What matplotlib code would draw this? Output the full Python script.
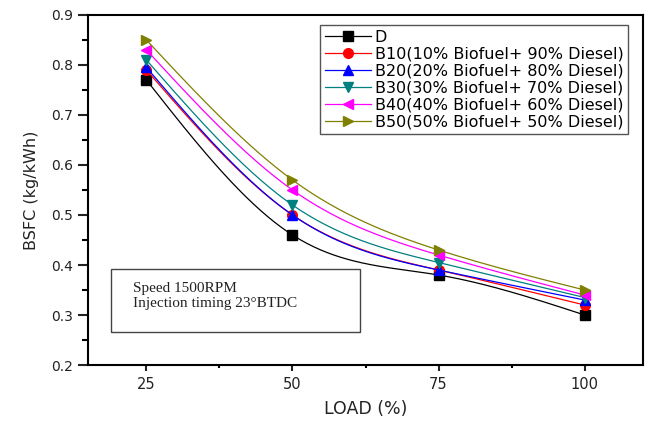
import numpy as np
import matplotlib.pyplot as plt
from matplotlib.patches import Rectangle
from matplotlib.ticker import MultipleLocator

# engine load (%) and BSFC (kg/kWh)
load = [25, 50, 75, 100]
bsfc_d = [0.77, 0.46, 0.38, 0.30]
bsfc_b10 = [0.79, 0.50, 0.39, 0.32]
bsfc_b20 = [0.795, 0.50, 0.39, 0.33]
bsfc_b30 = [0.81, 0.52, 0.405, 0.335]
bsfc_b40 = [0.83, 0.55, 0.42, 0.34]
bsfc_b50 = [0.85, 0.57, 0.43, 0.35]

labels = ['D',
          'B10(10% Biofuel+ 90% Diesel)',
          'B20(20% Biofuel+ 80% Diesel)',
          'B30(30% Biofuel+ 70% Diesel)',
          'B40(40% Biofuel+ 60% Diesel)',
          'B50(50% Biofuel+ 50% Diesel)']
series = [bsfc_d, bsfc_b10, bsfc_b20, bsfc_b30, bsfc_b40, bsfc_b50]
colors = ['black', '#ff0000', '#0000ff', '#008080', '#ff00ff', '#808000']
markers = ['s', 'o', '^', 'v', '<', '>']


def spline(x, y, n=200):
    # natural cubic spline through the points (for the smooth connecting line)
    x = np.asarray(x, float)
    y = np.asarray(y, float)
    k = len(x)
    h = np.diff(x)
    A = np.zeros((k, k))
    r = np.zeros(k)
    A[0, 0] = A[-1, -1] = 1
    for i in range(1, k - 1):
        A[i, i - 1] = h[i - 1]
        A[i, i] = 2 * (h[i - 1] + h[i])
        A[i, i + 1] = h[i]
        r[i] = 6 * ((y[i + 1] - y[i]) / h[i] - (y[i] - y[i - 1]) / h[i - 1])
    m = np.linalg.solve(A, r)
    xs = np.linspace(x[0], x[-1], n)
    idx = np.clip(np.searchsorted(x, xs) - 1, 0, k - 2)
    t0 = x[idx + 1] - xs
    t1 = xs - x[idx]
    hh = h[idx]
    ys = (m[idx] * t0**3 / (6 * hh) + m[idx + 1] * t1**3 / (6 * hh)
          + (y[idx] / hh - m[idx] * hh / 6) * t0
          + (y[idx + 1] / hh - m[idx + 1] * hh / 6) * t1)
    return xs, ys


fig = plt.figure(figsize=(6.49, 4.21), dpi=100)
ax = fig.add_axes([0.1356, 0.133, 0.8552, 0.8314])

handles = []
for vals, c, mk in zip(series, colors, markers):
    xs, ys = spline(load, vals)
    ln, = ax.plot(xs, ys, color=c, lw=0.9)
    pt, = ax.plot(load, vals, linestyle='none', marker=mk, color=c,
                  markersize=7, markeredgecolor=c)
    handles.append((ln, pt))

ax.set_xlim(15, 110)
ax.set_ylim(0.2, 0.9)
ax.set_xticks(load)
ax.xaxis.set_minor_locator(MultipleLocator(12.5))
ax.set_yticks(np.arange(0.2, 0.91, 0.1))
ax.yaxis.set_minor_locator(MultipleLocator(0.05))
ax.set_yticklabels(['%.1f' % v for v in np.arange(0.2, 0.91, 0.1)])

for s in ax.spines.values():
    s.set_linewidth(1.5)
ax.tick_params(axis='y', which='major', direction='out', length=7, width=1.5,
               labelsize=10, pad=3.5, colors='#222222')
ax.tick_params(axis='y', which='minor', direction='out', length=4, width=1.5)
ax.tick_params(axis='x', which='major', direction='out', length=4.5, width=1.5,
               labelsize=10.5, pad=4, colors='#222222')
ax.tick_params(axis='x', which='minor', direction='out', length=2.5, width=1.5)

ax.set_xlabel('LOAD (%)', fontsize=12.5, color='#222222', labelpad=6)
ax.set_ylabel('BSFC (kg/kWh)', fontsize=11.5, color='#222222', labelpad=9)

leg = ax.legend(handles, labels, loc='upper right', bbox_to_anchor=(0.973, 0.971),
                fontsize=11.5, frameon=True, fancybox=False, edgecolor='#555555',
                framealpha=1, labelspacing=0.12, handlelength=2.9,
                handletextpad=0.2, borderpad=0.3, borderaxespad=0)
leg.get_frame().set_linewidth(1.0)

# operating condition note
ax.add_patch(Rectangle((0.0414, 0.0943), 0.4486, 0.18, transform=ax.transAxes,
                       fill=False, edgecolor='#444444', lw=1.0))
ax.text(0.081, 0.197, 'Speed 1500RPM\nInjection timing 23\u00b0BTDC',
        transform=ax.transAxes, ha='left', va='center', fontsize=11,
        family='Liberation Serif', linespacing=1.2, color='#222222')

fig.savefig('out.png', dpi=100)
